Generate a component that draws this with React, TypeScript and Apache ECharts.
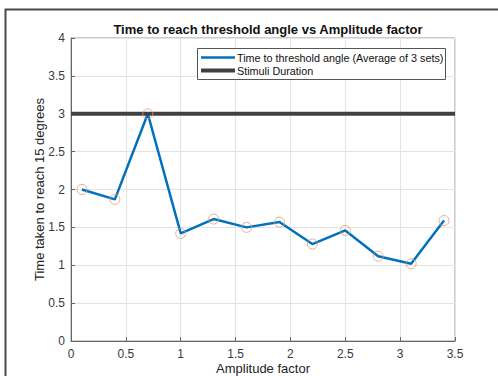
import React, { useEffect, useRef } from "react";
import * as echarts from "echarts";

// Amplitude factors tested and the averaged time (s) to reach 15 degrees
const amplitudeFactors = [0.1, 0.4, 0.7, 1.0, 1.3, 1.6, 1.9, 2.2, 2.5, 2.8, 3.1, 3.4];
const timeToThreshold = [2.0, 1.87, 3.0, 1.42, 1.61, 1.5, 1.57, 1.28, 1.46, 1.12, 1.02, 1.59];

// Stimulus duration drawn as a horizontal reference across the axis range
const stimulusDuration = 3;
const xRange = [0, 3.5];

const seriesNames = ["Time to threshold angle (Average of 3 sets)", "Stimuli Duration"];

const FONT = "'Liberation Sans', Arial, Helvetica, sans-serif";

export default function App() {
  const ref = useRef<HTMLDivElement>(null);

  useEffect(() => {
    if (!ref.current) return;
    const chart = echarts.init(ref.current, null, { renderer: "svg" });

    const points = amplitudeFactors.map((x, i) => [x, timeToThreshold[i]]);
    const durationLine = xRange.map((x) => [x, stimulusDuration]);

    const axisCommon = {
      axisLine: { show: true, lineStyle: { color: "#666", width: 1 } },
      axisTick: { show: true, inside: true, length: 4, lineStyle: { color: "#666" } },
      axisLabel: { color: "#3a3a3a", fontSize: 12, fontFamily: FONT },
      splitLine: { show: true, lineStyle: { color: "#e3e3e3", width: 1 } },
      nameTextStyle: { color: "#222", fontSize: 13, fontFamily: FONT },
      nameMoveOverlap: false,
    };

    chart.setOption({
      animation: false,
      backgroundColor: "#fff",
      title: {
        text: "Time to reach threshold angle vs Amplitude factor",
        left: 263,
        top: 18,
        textAlign: "center",
        textStyle: { fontSize: 13, fontWeight: "bold", color: "#111", fontFamily: FONT },
      },
      grid: {
        left: 71,
        right: 43,
        top: 38,
        bottom: 35,
        outerBoundsMode: "none",
        containLabel: false,
        show: true,
        borderColor: "#9a9a9a",
        borderWidth: 1,
        backgroundColor: "transparent",
      },
      xAxis: {
        type: "value",
        min: 0,
        max: 3.5,
        interval: 0.5,
        name: "Amplitude factor",
        nameLocation: "middle",
        nameGap: 21,
        ...axisCommon,
        axisLabel: { ...axisCommon.axisLabel, margin: 7 },
      },
      yAxis: {
        type: "value",
        min: 0,
        max: 4,
        interval: 0.5,
        name: "Time taken to reach 15 degrees",
        nameLocation: "middle",
        nameGap: 25,
        ...axisCommon,
        axisLabel: { ...axisCommon.axisLabel, margin: 6 },
      },
      series: [
        {
          name: seriesNames[0],
          type: "line",
          data: points,
          showSymbol: false,
          lineStyle: { color: "#0072BD", width: 2.5 },
          z: 2,
        },
        {
          name: seriesNames[1],
          type: "line",
          data: durationLine,
          showSymbol: false,
          lineStyle: { color: "#404040", width: 4 },
          z: 3,
        },
        {
          type: "scatter",
          data: points,
          symbol: "circle",
          symbolSize: 10,
          itemStyle: { color: "transparent", borderColor: "#e29a76", borderWidth: 1 },
          z: 4,
        },
      ],
      graphic: [
        // figure frame
        {
          type: "polyline",
          z: 100,
          shape: { points: [[5.5, 376], [5.5, 9.5], [498, 9.5]] },
          style: { stroke: "#4a4a4a", lineWidth: 2, fill: "none" },
        },
        // legend box
        {
          type: "group",
          left: 197,
          top: 48,
          z: 100,
          children: [
            {
              type: "rect",
              z: 100,
              shape: { x: 0.5, y: 0.5, width: 248, height: 31 },
              style: { fill: "#fff", stroke: "#555", lineWidth: 1 },
            },
            {
              type: "line",
              z: 101,
              shape: { x1: 4, y1: 9.5, x2: 38, y2: 9.5 },
              style: { stroke: "#0072BD", lineWidth: 2.5 },
            },
            {
              type: "text",
              z: 101,
              x: 40,
              y: 9.5,
              style: {
                text: seriesNames[0],
                fontSize: 10.8,
                fontFamily: FONT,
                fill: "#111",
                verticalAlign: "middle",
              },
            },
            {
              type: "line",
              z: 101,
              shape: { x1: 4, y1: 22.5, x2: 38, y2: 22.5 },
              style: { stroke: "#404040", lineWidth: 4 },
            },
            {
              type: "text",
              z: 101,
              x: 40,
              y: 22.5,
              style: {
                text: seriesNames[1],
                fontSize: 10.8,
                fontFamily: FONT,
                fill: "#111",
                verticalAlign: "middle",
              },
            },
          ],
        },
      ],
    });

    return () => chart.dispose();
  }, []);

  return (
    <div
      ref={ref}
      style={{ position: "fixed", left: 0, top: 0, width: 498, height: 376, background: "#fff" }}
    />
  );
}
